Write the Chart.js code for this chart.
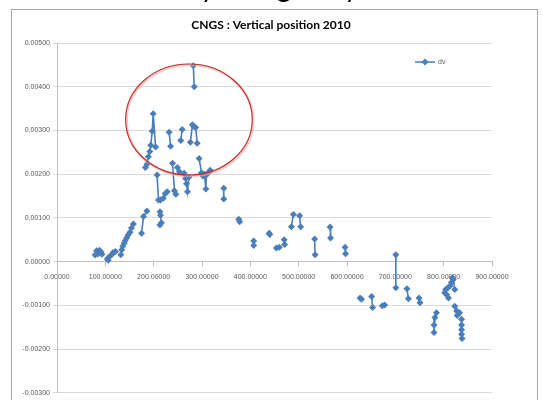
<!DOCTYPE html>
<html>
<head>
<meta charset="utf-8">
<script src="https://cdn.jsdelivr.net/npm/chart.js@4.4.1/dist/chart.umd.min.js"></script>
<style>
  body { margin: 0; background: #fff; }
  #wrap { position: relative; width: 543px; height: 400px; overflow: hidden; }
  canvas { position: absolute; left: 0; top: 0; }
  #slideText { position: absolute; left: 1px; top: -31px; font: 28px Lato, sans-serif; color: #000; white-space: nowrap; }
</style>
</head>
<body>
<div id="wrap">
  <canvas id="graph" width="543" height="400"></canvas>
  <div id="slideText">have been surveyed regularly.</div>
</div>
<script>
// distance along the line and vertical displacement dv; null = break in the line
const distance = [
  79, 82, 85, 88, 91, 93, null,
  104, 106, 108, 113, 116, 121, null,
  132, 134, 136, 139, 141, 144, 147, 151, 154, 158, null,
  175, 179, 186, null,
  183, 186, 189, 192, 194, 197, 199, 204, null,
  207, 210, 214, 220, 224, 228, null,
  213, 214, 216, 213, null,
  232, 235, null,
  239, 243, 246, null,
  249, 253, null,
  256, 259, null,
  263, 266, 268, 270, 273, null,
  276, 280, 283, 287, 290, null,
  282, 284, null,
  294, 299, 302, 305, 308, 309, 313, 317, null,
  345, 345, null,
  376, 378, null,
  407, 407, null,
  439, 440, null,
  454, 460, null,
  470, 471, null,
  485, 489, null,
  502, 504, null,
  533, 534, null,
  565, 566, null,
  596, 597, null,
  627, 630, null,
  651, 653, null,
  673, 678, null,
  701, 701, null,
  724, 727, null,
  749, 751, null,
  785, 782, 780, 780, null,
  810, 806, 802, 804, 809, 813, 816, 818, 820, 823, null,
  823, 827, 828, 833, null,
  837, 837, 837, 837, 838
];
const dv = [
  0.00015, 0.00025, 0.00018, 0.00026, 0.00022, 0.00017, null,
  0.00006, 0.00003, 0.00011, 0.00016, 0.00021, 0.00023, null,
  0.00016, 0.00027, 0.00035, 0.00042, 0.00048, 0.00054, 0.00061, 0.00067, 0.00077, 0.00086, null,
  0.00065, 0.00103, 0.00116, null,
  0.00215, 0.00222, 0.00240, 0.00252, 0.00266, 0.00298, 0.00338, 0.00262, null,
  0.00198, 0.00141, 0.00141, 0.00145, 0.00156, 0.00160, null,
  0.00114, 0.00106, 0.00089, 0.00084, null,
  0.00296, 0.00264, null,
  0.00225, 0.00162, 0.00154, null,
  0.00215, 0.00206, null,
  0.00277, 0.00302, null,
  0.00202, 0.00190, 0.00178, 0.00160, 0.00193, null,
  0.00273, 0.00313, 0.00309, 0.00307, 0.00271, null,
  0.00448, 0.00400, null,
  0.00236, 0.00203, 0.00196, 0.00200, 0.00166, 0.00198, 0.00204, 0.00209, null,
  0.00168, 0.00143, null,
  0.00097, 0.00091, null,
  0.00047, 0.00037, null,
  0.00065, 0.00062, null,
  0.00031, 0.00033, null,
  0.00050, 0.00039, null,
  0.00080, 0.00108, null,
  0.00105, 0.00080, null,
  0.00052, 0.00016, null,
  0.00079, 0.00054, null,
  0.00033, 0.00018, null,
  -0.00083, -0.00086, null,
  -0.00080, -0.00105, null,
  -0.00101, -0.00099, null,
  0.00016, -0.00060, null,
  -0.00062, -0.00085, null,
  -0.00083, -0.00094, null,
  -0.00117, -0.00128, -0.00145, -0.00162, null,
  -0.00083, -0.00075, -0.00071, -0.00064, -0.00060, -0.00056, -0.00048, -0.00037, -0.00041, -0.00064, null,
  -0.00102, -0.00113, -0.00123, -0.00117, null,
  -0.00132, -0.00145, -0.00156, -0.00166, -0.00176
];

const seriesName = 'dv';
const chartTitle = 'CNGS : Vertical position 2010';
const xMin = 0, xMax = 900, xStep = 100;
const yMin = -0.003, yMax = 0.005, yStep = 0.001;
// red circle drawn on the slide, in data units: centre, half-width, half-height
const circle = { x: 273, y: 0.00325, rx: 131, ry: 0.00127 };

const blue = '#4a7ebb';
const gridGray = '#d9d9d9';
const tickGray = '#595959';

const points = distance.map((x, i) => ({ x: x, y: dv[i] }));

const frame = {
  id: 'frame',
  beforeDraw(chart) {
    const ctx = chart.ctx;
    ctx.save();
    ctx.fillStyle = '#fff';
    ctx.fillRect(0, 0, chart.width, chart.height);
    ctx.strokeStyle = '#a6a6a6';
    ctx.lineWidth = 1;
    ctx.strokeRect(11.5, 9.5, 526, 420);
    ctx.restore();
  },
  afterDatasetsDraw(chart) {
    const ctx = chart.ctx;
    const xs = chart.scales.x, ys = chart.scales.y;
    ctx.save();
    // title
    ctx.fillStyle = '#000';
    ctx.font = 'bold 12px Lato, sans-serif';
    ctx.textAlign = 'center';
    ctx.textBaseline = 'middle';
    ctx.fillText(chartTitle, 271, 25);
    // legend
    ctx.strokeStyle = blue;
    ctx.lineWidth = 1.5;
    ctx.beginPath();
    ctx.moveTo(415, 62);
    ctx.lineTo(435, 62);
    ctx.stroke();
    ctx.fillStyle = blue;
    ctx.beginPath();
    ctx.moveTo(425, 58.5);
    ctx.lineTo(428.5, 62);
    ctx.lineTo(425, 65.5);
    ctx.lineTo(421.5, 62);
    ctx.closePath();
    ctx.fill();
    ctx.fillStyle = tickGray;
    ctx.font = '7px "Liberation Sans", sans-serif';
    ctx.textAlign = 'left';
    ctx.fillText(seriesName, 438, 62);
    // ellipse
    const cx = xs.getPixelForValue(circle.x);
    const cy = ys.getPixelForValue(circle.y);
    const rx = xs.getPixelForValue(circle.x + circle.rx) - cx;
    const ry = cy - ys.getPixelForValue(circle.y + circle.ry);
    ctx.strokeStyle = 'rgba(230,170,170,0.6)';
    ctx.lineWidth = 2.5;
    ctx.beginPath();
    ctx.ellipse(cx + 1, cy + 1, rx, ry, 0, 0, Math.PI * 2);
    ctx.stroke();
    ctx.strokeStyle = '#b8302e';
    ctx.lineWidth = 1.1;
    ctx.beginPath();
    ctx.ellipse(cx, cy, rx, ry, 0, 0, Math.PI * 2);
    ctx.stroke();
    ctx.restore();
  }
};

new Chart(document.getElementById('graph'), {
  type: 'scatter',
  data: {
    datasets: [{
      label: seriesName,
      data: points,
      showLine: true,
      spanGaps: false,
      borderColor: blue,
      backgroundColor: blue,
      borderWidth: 1.6,
      pointStyle: 'rectRot',
      pointRadius: 3.5,
      pointBorderWidth: 0
    }]
  },
  options: {
    responsive: false,
    animation: false,
    layout: { padding: { left: 0, top: 43, right: 51, bottom: 6 } },
    plugins: {
      legend: { display: false },
      title: { display: false },
      tooltip: { enabled: false }
    },
    scales: {
      x: {
        type: 'linear',
        position: { y: 0 },
        min: xMin,
        max: xMax,
        grid: { drawOnChartArea: false, drawTicks: true, tickLength: 4, color: '#bfbfbf' },
        border: { color: '#bfbfbf' },
        ticks: {
          stepSize: xStep,
          maxRotation: 0,
          padding: 7,
          color: tickGray,
          font: { family: '"Liberation Sans", sans-serif', size: 7 },
          callback: v => v.toFixed(5)
        }
      },
      y: {
        type: 'linear',
        min: yMin,
        max: yMax,
        afterFit(s) { s.width = 57; },
        grid: { color: gridGray, tickLength: 4 },
        border: { color: '#bfbfbf' },
        ticks: {
          stepSize: yStep,
          padding: 3,
          color: tickGray,
          font: { family: '"Liberation Sans", sans-serif', size: 7 },
          callback: v => v.toFixed(5)
        }
      }
    }
  },
  plugins: [frame]
});
</script>
</body>
</html>
